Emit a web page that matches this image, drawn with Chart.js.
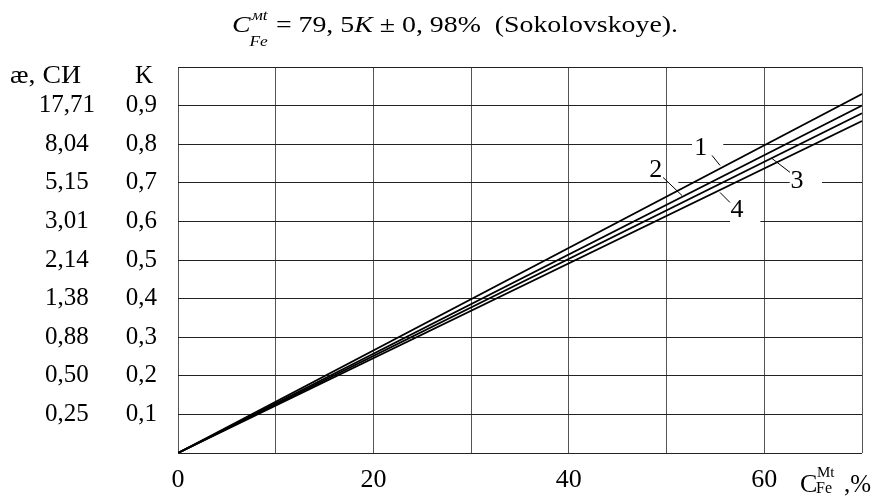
<!DOCTYPE html>
<html>
<head>
<meta charset="utf-8">
<script src="https://cdn.jsdelivr.net/npm/chart.js@4/dist/chart.umd.min.js"></script>
<style>
  html, body { margin: 0; padding: 0; background: #fff; }
  canvas { display: block; }
</style>
</head>
<body>
<canvas id="chart" width="877" height="500"></canvas>
<script>
// Magnetite iron content C (%) against the coefficient K, four calibration curves
const cFe = [0, 70];
const curve1 = [0, 0.93];
const curve2 = [0, 0.90];
const curve3 = [0, 0.88];
const curve4 = [0, 0.86];
const curveNames = ['1', '2', '3', '4'];

// Tick labels
const xLabelled = [0, 20, 40, 60];
const kLabels = ['0,1', '0,2', '0,3', '0,4', '0,5', '0,6', '0,7', '0,8', '0,9'];
const aeLabels = ['0,25', '0,50', '0,88', '1,38', '2,14', '3,01', '5,15', '8,04', '17,71'];

const SERIF = "'Liberation Serif', 'Times New Roman', serif";
const fnt = (size, italic) => (italic ? 'italic ' : '') + size + 'px ' + SERIF;

// Curve captions with leader strokes, in data units (C %, K)
const captions = [
  { text: '1', at: [53.5, 0.789], leader: [[54.65, 0.771], [55.47, 0.745]] },
  { text: '2', at: [48.9, 0.734], leader: [[49.64, 0.714], [51.58, 0.667]] },
  { text: '3', at: [63.35, 0.703], leader: [[60.79, 0.763], [62.63, 0.727]] },
  { text: '4', at: [57.2, 0.628], leader: [[55.47, 0.675], [56.49, 0.649]] }
];
// Breaks in horizontal grid lines where the captions sit
const gridBreaks = [
  { k: 0.8, from: 52.6, to: 55.8 },
  { k: 0.7, from: 50.1, to: 51.2 },
  { k: 0.7, from: 62.6, to: 65.9 },
  { k: 0.6, from: 56.5, to: 59.6 }
];

const seriesList = [curve1, curve2, curve3, curve4];
const datasets = seriesList.map((ys, i) => ({
  label: curveNames[i],
  data: cFe.map((x, j) => ({ x: x, y: ys[j] })),
  showLine: true,
  borderColor: '#000',
  borderWidth: 1.8,
  pointRadius: 0,
  pointHoverRadius: 0,
  fill: false,
  tension: 0,
  xAxisID: 'x',
  yAxisID: 'k'
}));

// Draws a sequence of text runs, squeezed or stretched horizontally to span [left, right]
function drawRunsFitted(ctx, runs, left, right) {
  let w = 0;
  runs.forEach(r => {
    ctx.font = fnt(r.size, r.italic);
    const rw = ctx.measureText(r.t).width;
    r._x = w + (r.dx || 0);
    if (!r.overlay) w = r._x + rw;
  });
  const scale = (right - left) / w;
  ctx.save();
  ctx.translate(left, 0);
  ctx.scale(scale, 1);
  runs.forEach(r => {
    ctx.font = fnt(r.size, r.italic);
    ctx.fillText(r.t, r._x, r.y);
  });
  ctx.restore();
}

const annotate = {
  id: 'annotate',
  beforeDatasetsDraw(chart) {
    const ctx = chart.ctx;
    const sx = chart.scales.x, sk = chart.scales.k;
    ctx.save();
    ctx.fillStyle = '#fff';
    gridBreaks.forEach(g => {
      const x0 = sx.getPixelForValue(g.from), x1 = sx.getPixelForValue(g.to);
      const y = sk.getPixelForValue(g.k);
      ctx.fillRect(x0, y - 2, x1 - x0, 4);
    });
    ctx.restore();
  },
  afterDatasetsDraw(chart) {
    const ctx = chart.ctx;
    const sx = chart.scales.x, sk = chart.scales.k;
    ctx.save();
    ctx.fillStyle = '#000';
    ctx.strokeStyle = '#000';
    ctx.lineWidth = 1;

    // curve captions
    captions.forEach(c => {
      ctx.beginPath();
      ctx.moveTo(sx.getPixelForValue(c.leader[0][0]), sk.getPixelForValue(c.leader[0][1]));
      ctx.lineTo(sx.getPixelForValue(c.leader[1][0]), sk.getPixelForValue(c.leader[1][1]));
      ctx.stroke();
      ctx.font = fnt(26, false);
      ctx.textAlign = 'center';
      ctx.textBaseline = 'middle';
      ctx.fillText(c.text, sx.getPixelForValue(c.at[0]), sk.getPixelForValue(c.at[1]));
    });

    // axis headings
    ctx.textAlign = 'left';
    ctx.textBaseline = 'alphabetic';
    drawRunsFitted(ctx, [{ t: 'æ, СИ', size: 25, y: 83 }], 10, 81);
    drawRunsFitted(ctx, [{ t: 'K', size: 25, y: 83 }], 135, 153);

    // x axis name: C with superscript Mt and subscript Fe
    ctx.font = fnt(26, false);
    ctx.fillText('C', 800, 492);
    ctx.font = fnt(15, false);
    ctx.fillText('Mt', 817, 477);
    ctx.font = fnt(16, false);
    ctx.fillText('Fe', 816, 493);
    ctx.font = fnt(25, false);
    ctx.fillText(',%', 844, 492);

    // title formula
    drawRunsFitted(ctx, [
      { t: 'C', size: 24, italic: true, y: 32 },
      { t: 'мt', size: 15, italic: true, y: 20, dx: 1, overlay: true },
      { t: 'Fe', size: 15, italic: true, y: 46, dx: -1 },
      { t: '= 79, 5', size: 24, y: 32, dx: 7 },
      { t: 'K', size: 24, italic: true, y: 32 },
      { t: ' ± 0, 98%  (Sokolovskoye).', size: 24, y: 32 }
    ], 232, 678);
    ctx.restore();
  }
};

Chart.defaults.font.family = SERIF;
Chart.defaults.color = '#000';

new Chart(document.getElementById('chart'), {
  type: 'scatter',
  data: { datasets: datasets },
  options: {
    responsive: false,
    animation: false,
    events: [],
    layout: { padding: { left: 0, right: 15, top: 67, bottom: 0 } },
    plugins: { legend: { display: false }, tooltip: { enabled: false }, title: { display: false } },
    scales: {
      x: {
        type: 'linear',
        position: 'bottom',
        min: 0,
        max: 70,
        ticks: {
          stepSize: 10,
          autoSkip: false,
          maxRotation: 0,
          padding: 12,
          color: '#000',
          font: { size: 26 },
          callback: v => (xLabelled.includes(v) ? String(v) : '')
        },
        grid: { color: '#555', lineWidth: 1, drawTicks: false },
        border: { display: false },
        afterFit: s => { s.height = 47; }
      },
      k: {
        type: 'linear',
        position: 'left',
        weight: 0,
        min: 0,
        max: 1,
        ticks: {
          stepSize: 0.1,
          autoSkip: false,
          padding: 21,
          crossAlign: 'center',
          color: '#000',
          font: { size: 25 },
          callback: v => {
            const i = Math.round(v * 10);
            return i >= 1 && i <= kLabels.length ? kLabels[i - 1] : '';
          }
        },
        grid: { color: '#222', lineWidth: 1, drawTicks: false },
        border: { display: false },
        afterFit: s => { s.width = 80; }
      },
      ae: {
        type: 'linear',
        position: 'left',
        weight: 1,
        min: 0,
        max: 1,
        ticks: {
          stepSize: 0.1,
          autoSkip: false,
          padding: 3,
          crossAlign: 'center',
          color: '#000',
          font: { size: 25 },
          callback: v => {
            const i = Math.round(v * 10);
            return i >= 1 && i <= aeLabels.length ? aeLabels[i - 1] : '';
          }
        },
        grid: { display: false, drawTicks: false },
        border: { display: false },
        afterFit: s => { s.width = 98; }
      }
    }
  },
  plugins: [annotate]
});
</script>
</body>
</html>
